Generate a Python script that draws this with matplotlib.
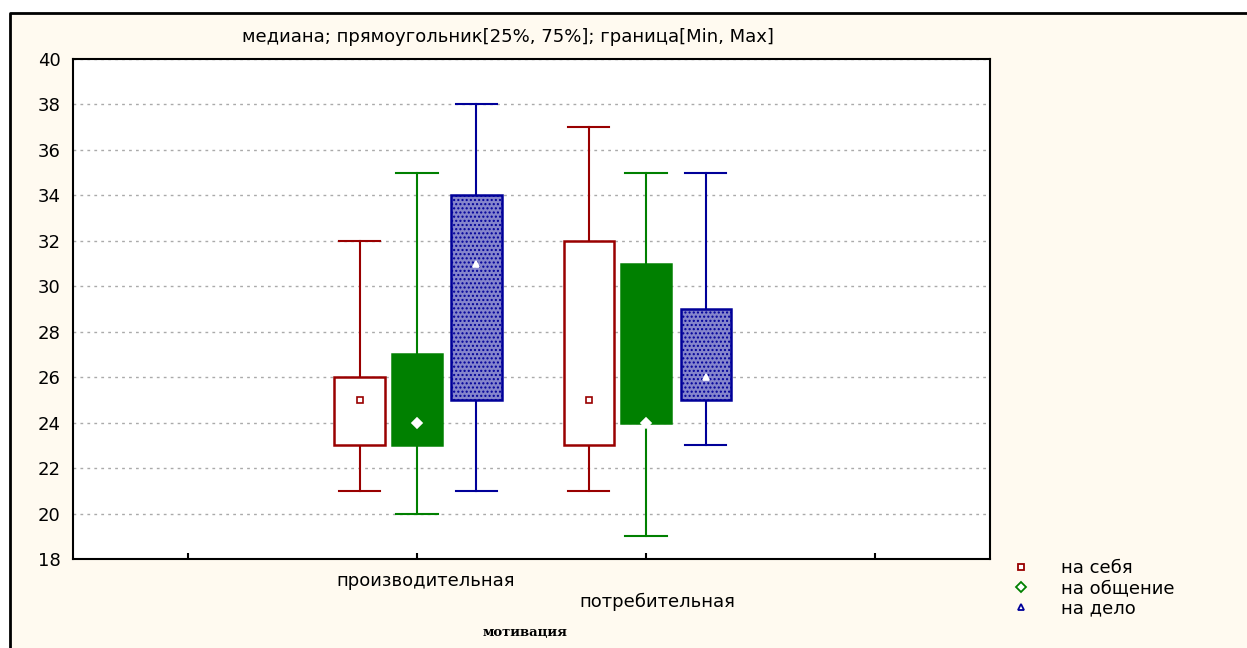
import matplotlib.pyplot as plt
from matplotlib.lines import Line2D
from matplotlib.patches import Rectangle
import numpy as np

plt.rcParams['font.family'] = ['DejaVu Sans']
plt.rcParams['hatch.linewidth'] = 1.0

# motivation groups and the three series (min, q1, median, q3, max)
groups = ['производительная', 'потребительная']
series_names = ['на себя', 'на общение', 'на дело']

na_sebya_min = [21, 21]
na_sebya_q1 = [23, 23]
na_sebya_med = [25, 25]
na_sebya_q3 = [26, 32]
na_sebya_max = [32, 37]

na_obsh_min = [20, 19]
na_obsh_q1 = [23, 24]
na_obsh_med = [24, 24]
na_obsh_q3 = [27, 31]
na_obsh_max = [35, 35]

na_delo_min = [21, 23]
na_delo_q1 = [25, 25]
na_delo_med = [31, 26]
na_delo_q3 = [34, 29]
na_delo_max = [38, 35]

series = [
    (na_sebya_min, na_sebya_q1, na_sebya_med, na_sebya_q3, na_sebya_max),
    (na_obsh_min, na_obsh_q1, na_obsh_med, na_obsh_q3, na_obsh_max),
    (na_delo_min, na_delo_q1, na_delo_med, na_delo_q3, na_delo_max),
]

colors = ['#990000', '#008000', '#000099']
faces = ['white', '#008000', '#8585cc']
hatches = [None, None, '....']
med_markers = ['s', 'D', '^']
offsets = [-0.25, 0.0, 0.26]
box_w = 0.22
cap_w = 0.18

fig = plt.figure(figsize=(12.47, 6.48), dpi=100, facecolor='white')
# cream background with frame
fig.patches.append(Rectangle((10 / 1247, 0), 1 - 10 / 1247, 1 - 13 / 648,
                             transform=fig.transFigure, facecolor='#fffaf0',
                             edgecolor='none', zorder=-10))
fig.lines.append(Line2D([10 / 1247, 10 / 1247, 1], [0, 1 - 13 / 648, 1 - 13 / 648],
                        transform=fig.transFigure, color='black', lw=2))

ax = fig.add_axes([73 / 1247, 1 - 559 / 648, (990 - 73) / 1247, 500 / 648])
ax.set_facecolor('white')

for k, (mins, q1s, meds, q3s, maxs) in enumerate(series):
    c = colors[k]
    for g in range(len(groups)):
        x = g + 1 + offsets[k]
        # whiskers and caps
        ax.plot([x, x], [q3s[g], maxs[g]], color=c, lw=1.5, zorder=2)
        ax.plot([x, x], [mins[g], q1s[g]], color=c, lw=1.5, zorder=2)
        ax.plot([x - cap_w / 2, x + cap_w / 2], [maxs[g], maxs[g]], color=c, lw=1.5, zorder=2)
        ax.plot([x - cap_w / 2, x + cap_w / 2], [mins[g], mins[g]], color=c, lw=1.5, zorder=2)
        # box
        ax.add_patch(Rectangle((x - box_w / 2, q1s[g]), box_w, q3s[g] - q1s[g],
                               facecolor=faces[k], edgecolor=c, hatch=hatches[k],
                               lw=1.8, zorder=3))
        # median
        ax.plot(x, meds[g], marker=med_markers[k], ms=5, mfc='white',
                mec=c if k == 0 else 'white', mew=1.2, zorder=4)

ax.set_xlim(-0.5, 3.5)
ax.set_ylim(18, 40)
ax.set_yticks(np.arange(18, 41, 2))
ax.set_xticks([0, 1, 2, 3])
ax.set_xticklabels([])
ax.tick_params(axis='y', length=0, labelsize=13, pad=9)
ax.tick_params(axis='x', direction='in', length=4, width=1.5)
ax.yaxis.grid(True, color='#aaaaaa', linestyle=(0, (2, 3)), lw=1)
ax.set_axisbelow(True)
for s in ax.spines.values():
    s.set_linewidth(1.5)

# staggered category labels
ax.text(1.04, 17.05, groups[0], ha='center', va='center', fontsize=13, transform=ax.transData)
ax.text(2.05, 16.1, groups[1], ha='center', va='center', fontsize=13, transform=ax.transData)
fig.text(525 / 1247, 1 - 633 / 648, 'мотивация', ha='center', va='center',
         fontsize=9.5, fontweight='bold', family='DejaVu Serif')
fig.text(508 / 1247, 1 - 37 / 648, 'медиана; прямоугольник[25%, 75%]; граница[Min, Max]',
         ha='center', va='center', fontsize=13)

handles = [Line2D([], [], ls='none', marker=med_markers[k], ms=5, mfc='white',
                  mec=colors[k], mew=1.3) for k in range(3)]
fig.legend(handles, series_names, loc='upper left', bbox_to_anchor=(994 / 1247, 1 - 543 / 648),
           frameon=False, fontsize=13, handletextpad=1.6, labelspacing=0.1,
           handlelength=1.2)

fig.savefig('out.png', dpi=100, facecolor=fig.get_facecolor())
